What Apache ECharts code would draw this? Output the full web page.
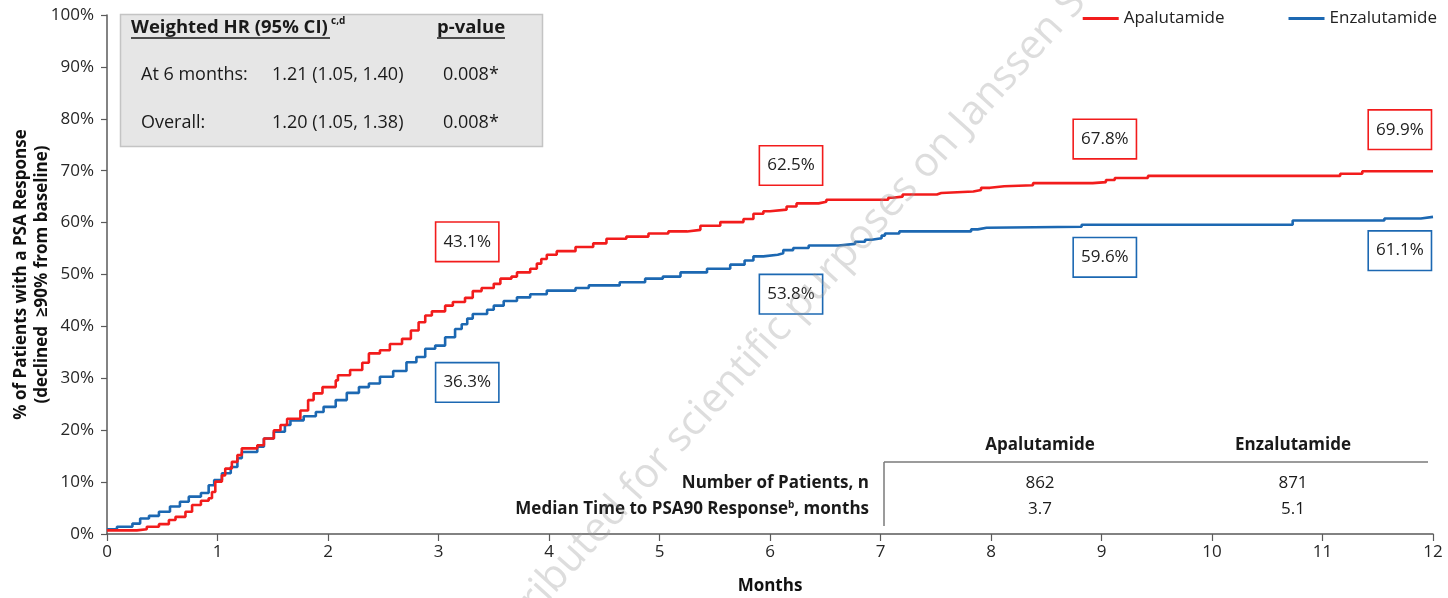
<!DOCTYPE html>
<html>
<head>
<meta charset="utf-8">
<script src="https://cdn.jsdelivr.net/npm/echarts@6/dist/echarts.min.js"></script>
<style>html,body{margin:0;padding:0;background:#fff}#c{width:1448px;height:598px}</style>
</head>
<body>
<div id="c"></div>
<script>
// ---------- DATA ----------
const xTicks = [0,1,2,3,4,5,6,7,8,9,10,11,12];
const seriesNames = ['Apalutamide', 'Enzalutamide'];

const apaMonths = [0,0.27,0.36,0.47,0.56,0.62,0.71,0.77,0.85,0.92,0.95,0.98,1.04,1.07,1.13,1.18,1.22,1.36,1.42,1.51,1.57,1.63,1.75,1.82,1.87,1.95,2.07,2.09,2.20,2.31,2.37,2.47,2.56,2.67,2.75,2.82,2.88,2.94,3.06,3.13,3.24,3.31,3.39,3.50,3.56,3.66,3.71,3.83,3.89,3.93,3.98,4.07,4.24,4.40,4.52,4.70,4.90,5.08,5.25,5.37,5.55,5.76,5.85,5.94,6.00,6.15,6.24,6.44,6.51,7.07,7.11,7.20,7.51,7.55,7.84,7.91,7.99,8.12,8.38,8.92,9.04,9.12,9.42,11.16,11.36,12];
const apaValues = [0.7,0.9,1.4,1.9,2.7,3.3,4.3,5.6,6.4,6.9,8.1,10.1,11.3,12.6,13.9,15.2,16.5,17.1,18.4,20.0,21.0,22.2,23.8,25.8,27.1,28.3,29.6,30.6,31.6,33.0,34.8,35.4,36.6,37.6,39.2,40.8,42.1,42.9,44.0,44.7,45.5,46.8,47.4,48.2,49.2,49.6,50.4,51.1,52.1,53.0,53.8,54.5,55.3,56.0,56.9,57.3,57.9,58.3,58.6,59.4,60.1,60.7,61.7,62.2,62.5,63.1,63.7,64.0,64.4,64.8,65.0,65.4,65.7,66.0,66.3,66.7,67.0,67.2,67.6,67.8,68.2,68.6,69.0,69.4,69.9,69.9];

const enzaMonths = [0,0.09,0.23,0.30,0.38,0.47,0.57,0.66,0.74,0.85,0.92,0.97,1.04,1.12,1.18,1.22,1.36,1.42,1.51,1.61,1.66,1.78,1.89,1.96,2.07,2.17,2.28,2.37,2.47,2.59,2.71,2.80,2.88,2.97,3.06,3.15,3.21,3.26,3.31,3.44,3.50,3.59,3.71,3.83,3.98,4.24,4.36,4.64,4.87,5.03,5.19,5.43,5.64,5.77,5.85,5.94,6.07,6.12,6.21,6.35,6.62,6.77,6.86,6.92,7.01,7.04,7.17,7.82,7.88,7.96,8.82,10.73,11.56,11.89,12];
const enzaValues = [0.9,1.4,2.0,3.0,3.5,4.3,5.3,6.2,7.2,7.9,9.4,10.4,11.7,12.9,14.6,15.8,16.8,18.4,19.7,21.0,21.9,22.7,23.5,24.5,25.8,27.2,28.3,29.0,30.3,31.4,33.1,34.1,35.7,36.3,37.9,39.5,40.4,41.5,42.4,43.2,44.0,44.9,45.6,46.2,46.9,47.4,47.9,48.5,49.2,49.6,50.4,51.1,51.9,52.7,53.5,53.8,54.1,54.7,55.1,55.6,55.9,56.3,56.7,57.0,57.5,57.9,58.3,58.7,59.0,59.2,59.6,60.4,60.8,61.1,61.1];

// landmark estimates shown in the call-out boxes
const landmarkMonths = [3, 6, 9, 12];
const apaLandmark = [43.1, 62.5, 67.8, 69.9];
const enzaLandmark = [36.3, 53.8, 59.6, 61.1];

// HR box text
const hrHeader = ['Weighted HR (95% CI)', 'c,d', 'p-value'];
const hrRows = [
  ['At 6 months:', '1.21 (1.05, 1.40)', '0.008*'],
  ['Overall:', '1.20 (1.05, 1.38)', '0.008*']
];
// summary table text
const tableHeader = ['Apalutamide', 'Enzalutamide'];
const tableRowLabels = ['Number of Patients, n', 'Median Time to PSA90 Response', ', months'];
const tableRows = [['862', '871'], ['3.7', '5.1']];
const watermarkText = 'Distributed for scientific purposes on Janssen Scientific Affairs';

// ---------- LAYOUT (positions, not data) ----------
const calloutPos = {
  apa: [[3.26, 56.3], [6.19, 71.0], [9.03, 76.1], [11.70, 77.9]],
  enza: [[3.26, 29.2], [6.19, 46.2], [9.03, 53.3], [11.70, 54.6]]
};
const RED = '#f21c1c', BLUE = '#1c68b2';
const FONT = 'Open Sans';

const chart = echarts.init(document.getElementById('c'), null, {renderer: 'canvas'});

function pairs(xs, ys) { return xs.map((x, i) => [x, ys[i]]); }
function callouts(pos, vals, color) {
  return pos.map((p, i) => ({
    value: p, name: vals[i].toFixed(1) + '%',
    label: {borderColor: color}
  }));
}

const txt = (x, y, text, opt) => ({
  type: 'text', x, y, z: 50,
  style: Object.assign({text, fill: '#1a1a1a', font: `17px "${FONT}"`, verticalAlign: 'middle', textAlign: 'left'}, opt || {})
});
const line = (x1, y1, x2, y2, stroke, w) => ({
  type: 'line', z: 50, shape: {x1, y1, x2, y2}, style: {stroke, lineWidth: w}
});

const graphics = [
  // HR box
  {type: 'rect', z: 40, shape: {x: 120.5, y: 14.5, width: 422, height: 132}, style: {fill: '#e6e6e6', stroke: '#c4c4c4', lineWidth: 1.5}},
  txt(131, 28, hrHeader[0], {font: `bold 18.5px "${FONT}"`}),
  txt(331, 21, hrHeader[1], {font: `bold 10px "${FONT}"`}),
  txt(437, 28, hrHeader[2], {font: `bold 18.5px "${FONT}"`}),
  line(131, 38, 330, 38, '#1a1a1a', 1.5),
  line(437, 38, 505, 38, '#1a1a1a', 1.5),
  txt(141, 75, hrRows[0][0], {font: `18px "${FONT}"`}),
  txt(272, 75, hrRows[0][1], {font: `18px "${FONT}"`}),
  txt(443, 75, hrRows[0][2], {font: `18px "${FONT}"`}),
  txt(141, 123, hrRows[1][0], {font: `18px "${FONT}"`}),
  txt(272, 123, hrRows[1][1], {font: `18px "${FONT}"`}),
  txt(443, 123, hrRows[1][2], {font: `18px "${FONT}"`}),
  // summary table
  txt(1040, 445, tableHeader[0], {font: `bold 17px "${FONT}"`, textAlign: 'center'}),
  txt(1293, 445, tableHeader[1], {font: `bold 17px "${FONT}"`, textAlign: 'center'}),
  line(884, 462, 1428, 462, '#7a7a7a', 1.5),
  line(884, 462, 884, 526, '#7a7a7a', 1.5),
  txt(869, 483, tableRowLabels[0], {font: `bold 17px "${FONT}"`, textAlign: 'right'}),
  {type: 'text', z: 50, x: 869, y: 509, style: {
    rich: {b: {font: `bold 17px "${FONT}"`, fill: '#1a1a1a'}, s: {font: `bold 10px "${FONT}"`, fill: '#1a1a1a', verticalAlign: 'top', padding: [0, 0, 8, 0]}},
    text: '{b|' + tableRowLabels[1] + '}{s|b}{b|' + tableRowLabels[2] + '}', textAlign: 'right', verticalAlign: 'middle'}},
  txt(1040, 483, tableRows[0][0], {textAlign: 'center'}),
  txt(1293, 483, tableRows[0][1], {textAlign: 'center'}),
  txt(1040, 509, tableRows[1][0], {textAlign: 'center'}),
  txt(1293, 509, tableRows[1][1], {textAlign: 'center'}),
  // watermark
  {type: 'text', z: 100, x: 478, y: 662, rotation: 48 * Math.PI / 180, silent: true,
    style: {text: watermarkText, font: `41px "${FONT}"`,
      fill: 'rgba(150,150,150,0.32)', textAlign: 'left', verticalAlign: 'middle'}}
];

const labelBase = {
  show: true, position: 'inside', formatter: '{b}', color: '#222', fontFamily: FONT, fontSize: 17,
  backgroundColor: '#fff', borderWidth: 1.6, padding: [9, 7, 9, 7], lineHeight: 20, opacity: 1
};

chart.setOption({
  animation: false,
  textStyle: {fontFamily: FONT},
  grid: {left: 107, right: 15, top: 15, bottom: 64, containLabel: false, outerBoundsMode: 'none'},
  legend: {
    data: seriesNames, right: 6, top: 5, itemWidth: 36, itemHeight: 3, itemGap: 64,
    icon: 'rect', textStyle: {fontSize: 17, color: '#222', fontFamily: FONT}
  },
  xAxis: {
    type: 'value', min: 0, max: 12, interval: 1,
    name: 'Months', nameLocation: 'middle', nameGap: 44, nameMoveOverlap: false,
    nameTextStyle: {fontSize: 17, fontWeight: 'bold', color: '#111', fontFamily: FONT},
    axisLine: {lineStyle: {color: '#5a5a5a', width: 1.5}},
    axisTick: {show: true, length: 7, lineStyle: {color: '#5a5a5a', width: 1.2}},
    axisLabel: {fontSize: 17, color: '#262626', margin: 10, fontFamily: FONT,
      formatter: v => xTicks.includes(v) ? String(v) : ''},
    splitLine: {show: false}
  },
  yAxis: {
    type: 'value', min: 0, max: 100, interval: 10,
    name: '% of Patients with a PSA Response\n(declined  ≥90% from baseline)',
    nameLocation: 'middle', nameGap: 54, nameRotate: 90, nameMoveOverlap: false,
    nameTextStyle: {fontSize: 17, fontWeight: 'bold', color: '#111', lineHeight: 21, fontFamily: FONT},
    axisLine: {show: true, lineStyle: {color: '#5a5a5a', width: 1.5}},
    axisTick: {show: true, length: 6, lineStyle: {color: '#5a5a5a', width: 1.2}},
    axisLabel: {fontSize: 17, color: '#262626', margin: 13, formatter: '{value}%', fontFamily: FONT},
    splitLine: {show: false}
  },
  series: [
    {name: seriesNames[1], type: 'line', step: 'end', symbol: 'none', z: 2,
      data: pairs(enzaMonths, enzaValues), lineStyle: {color: BLUE, width: 2.6}, itemStyle: {color: BLUE}},
    {name: seriesNames[0], type: 'line', step: 'end', symbol: 'none', z: 3,
      data: pairs(apaMonths, apaValues), lineStyle: {color: RED, width: 2.6}, itemStyle: {color: RED}},
    {type: 'scatter', symbolSize: 1, itemStyle: {color: 'rgba(0,0,0,0)', opacity: 1}, z: 5, silent: true,
      data: callouts(calloutPos.apa, apaLandmark, RED), label: labelBase},
    {type: 'scatter', symbolSize: 1, itemStyle: {color: 'rgba(0,0,0,0)', opacity: 1}, z: 5, silent: true,
      data: callouts(calloutPos.enza, enzaLandmark, BLUE), label: labelBase}
  ],
  graphic: graphics
});
</script>
</body>
</html>
